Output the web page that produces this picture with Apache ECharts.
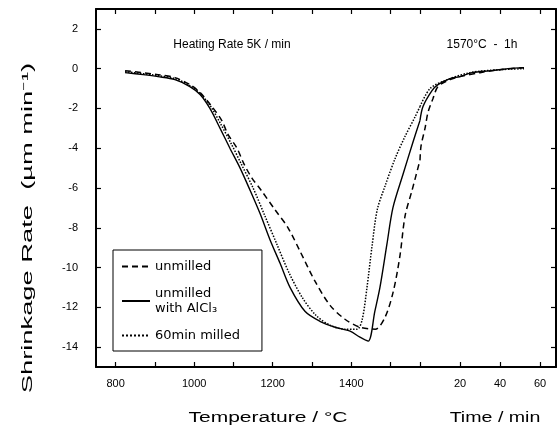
<!DOCTYPE html>
<html>
<head>
<meta charset="utf-8">
<script src="https://cdn.jsdelivr.net/npm/echarts@6.0.0/dist/echarts.min.js"></script>
<style>
  html, body { margin: 0; padding: 0; background: #fff; }
  #chart { width: 559px; height: 432px; }
</style>
</head>
<body>
<div id="chart"></div>
<script>
// heating ramp, shrinkage rate vs temperature
const alclTemp = [824, 870, 908, 951, 989, 1015, 1040, 1066, 1091, 1117, 1142, 1168, 1193, 1219, 1244, 1282, 1320, 1359, 1397, 1422, 1443, 1460, 1473, 1491, 1506, 1532, 1557, 1575];
const alclRate = [-0.2, -0.3, -0.4, -0.55, -0.9, -1.3, -2.0, -3.0, -4.0, -5.0, -6.1, -7.3, -8.6, -9.8, -11.0, -12.2, -12.7, -13.0, -13.2, -13.5, -13.7, -12.2, -11.0, -8.8, -7.0, -5.3, -3.7, -2.6];

const unmilledTemp = [824, 908, 951, 989, 1015, 1045, 1070, 1086, 1109, 1127, 1147, 1170, 1206, 1239, 1270, 1308, 1346, 1384, 1422, 1461, 1486, 1507, 1524, 1537, 1555, 1575];
const unmilledRate = [-0.1, -0.3, -0.45, -0.8, -1.2, -1.9, -2.6, -3.3, -4.0, -4.8, -5.5, -6.1, -7.1, -8.0, -9.2, -10.7, -11.9, -12.6, -13.0, -13.1, -12.5, -11.2, -9.4, -7.4, -6.1, -4.6];

const milledTemp = [824, 908, 951, 989, 1015, 1042, 1068, 1095, 1120, 1150, 1180, 1210, 1240, 1275, 1310, 1346, 1385, 1415, 1428, 1440, 1453, 1466, 1486, 1512, 1537, 1563, 1575];
const milledRate = [-0.15, -0.35, -0.5, -0.85, -1.25, -1.9, -2.8, -3.8, -4.8, -6.0, -7.4, -8.8, -10.2, -11.5, -12.4, -12.9, -13.1, -13.1, -12.6, -11.0, -8.9, -7.1, -5.9, -4.5, -3.4, -2.4, -1.9];

// isothermal hold at 1570 C, shrinkage rate vs time
const alclTime = [0, 1.5, 6, 9, 15, 20, 26, 36, 44, 52];
const alclHold = [-2.6, -1.9, -1.1, -0.8, -0.5, -0.4, -0.2, -0.1, 0, 0.05];

const unmilledTime = [0, 0.5, 2.5, 4, 6.5, 9, 15, 20, 30, 40, 52];
const unmilledHold = [-4.6, -3.9, -3.0, -2.2, -1.5, -0.9, -0.55, -0.4, -0.2, -0.05, 0.05];

const milledTime = [0, 5, 12.5, 25, 40, 52];
const milledHold = [-1.9, -1.0, -0.6, -0.2, -0.05, 0];

const tempTicks = [800, 900, 1000, 1100, 1200, 1300, 1400, 1500];
const tempLabels = [800, 1000, 1200, 1400];
const timeTicks = [0, 20, 40, 60];
const timeLabels = [20, 40, 60];
const rateTicks = [2, 0, -2, -4, -6, -8, -10, -12, -14];

const NAMES = ['unmilled', 'unmilled with AlCl\u2083', '60min milled'];

const zip = (xs, ys) => xs.map((x, i) => [x, ys[i]]);

const chart = echarts.init(document.getElementById('chart'));

const axisLine = { show: true, onZero: false, lineStyle: { color: '#000', width: 2 } };
const tickIn = vals => ({ show: true, inside: true, length: 5, customValues: vals, lineStyle: { color: '#000', width: 1.2 } });
const labelStyle = { color: '#000', fontSize: 11, fontFamily: 'Liberation Sans', formatter: v => String(v) };

function xAx(grid, pos, min, max, ticks, labels) {
  return {
    type: 'value', gridIndex: grid, position: pos, min: min, max: max,
    axisLine: axisLine,
    axisTick: tickIn(ticks),
    axisLabel: labels ? Object.assign({ show: true, margin: 11, customValues: labels }, labelStyle) : { show: false },
    splitLine: { show: false }
  };
}

function yAx(grid, pos, labels) {
  return {
    type: 'value', gridIndex: grid, position: pos, min: -15, max: 3,
    axisLine: axisLine,
    axisTick: tickIn(rateTicks),
    axisLabel: labels ? Object.assign({ show: true, margin: 18, customValues: rateTicks }, labelStyle) : { show: false },
    splitLine: { show: false }
  };
}

const styles = [
  { type: [6, 4], width: 1.5 },
  { type: 'solid', width: 1.4 },
  { type: 'dotted', width: 1.5 }
];

function line(name, data, xi, yi, st) {
  return {
    name: name, type: 'line', data: data, xAxisIndex: xi, yAxisIndex: yi,
    symbol: 'none', smooth: 0.3,
    itemStyle: { color: '#000' },
    lineStyle: Object.assign({ color: '#000' }, st)
  };
}

chart.setOption({
  animation: false,
  backgroundColor: '#fff',
  grid: [
    { left: 96, top: 9, width: 324, height: 358 },
    { left: 420, top: 9, width: 136, height: 358 }
  ],
  xAxis: [
    xAx(0, 'bottom', 750, 1575, tempTicks, tempLabels),
    xAx(0, 'top', 750, 1575, tempTicks, null),
    xAx(1, 'bottom', 0, 68, timeTicks, timeLabels),
    xAx(1, 'top', 0, 68, timeTicks, null)
  ],
  yAxis: [
    yAx(0, 'left', true),
    yAx(1, 'right', false)
  ],
  legend: {
    data: NAMES,
    orient: 'vertical',
    left: 113, top: 250,
    padding: [9, 22, 8, 8],
    itemGap: 12,
    itemWidth: 28,
    itemHeight: 12,
    borderColor: '#000',
    borderWidth: 1,
    borderRadius: 0,
    backgroundColor: '#fff',
    itemStyle: { opacity: 0 },
    textStyle: { color: '#000', fontSize: 13, fontFamily: 'DejaVu Sans', lineHeight: 15 },
    formatter: n => n === NAMES[1] ? 'unmilled\nwith AlCl\u2083' : n
  },
  graphic: [
    { type: 'text', x: 232, y: 45, style: { text: 'Heating Rate 5K / min', font: '12px "Liberation Sans"', fill: '#000', textAlign: 'center', textVerticalAlign: 'middle' } },
    { type: 'text', x: 482, y: 45, style: { text: '1570\u00b0C  -  1h', font: '12px "Liberation Sans"', fill: '#000', textAlign: 'center', textVerticalAlign: 'middle' } },
    { type: 'text', x: 268, y: 418, scaleX: 1.5, style: { text: 'Temperature / \u00b0C', font: '14px "Liberation Sans"', fill: '#000', textAlign: 'center', textVerticalAlign: 'middle' } },
    { type: 'text', x: 495, y: 418, scaleX: 1.4, style: { text: 'Time / min', font: '14px "Liberation Sans"', fill: '#000', textAlign: 'center', textVerticalAlign: 'middle' } },
    { type: 'text', x: 28, y: 228, rotation: Math.PI / 2, scaleX: 1.95, style: { text: 'Shrinkage Rate  (\u00b5m min\u207b\u00b9)', font: '14px "Liberation Sans"', fill: '#000', textAlign: 'center', textVerticalAlign: 'middle' } }
  ],
  series: [
    line(NAMES[0], zip(unmilledTemp, unmilledRate), 0, 0, styles[0]),
    line(NAMES[1], zip(alclTemp, alclRate), 0, 0, styles[1]),
    line(NAMES[2], zip(milledTemp, milledRate), 0, 0, styles[2]),
    line(NAMES[0], zip(unmilledTime, unmilledHold), 2, 1, styles[0]),
    line(NAMES[1], zip(alclTime, alclHold), 2, 1, styles[1]),
    line(NAMES[2], zip(milledTime, milledHold), 2, 1, styles[2])
  ]
});
</script>
</body>
</html>
